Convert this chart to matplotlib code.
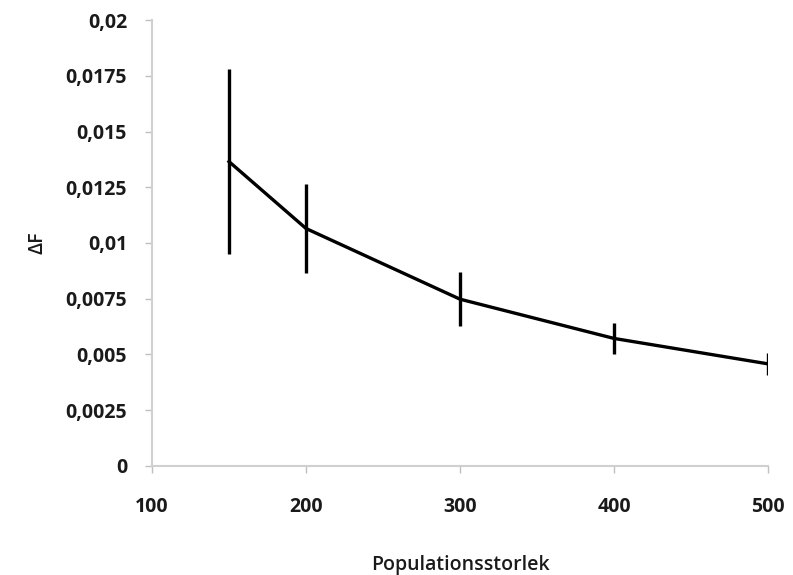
import matplotlib
matplotlib.use("Agg")
import matplotlib.pyplot as plt
from matplotlib.ticker import FuncFormatter, MultipleLocator

# Data
population_size = [150, 200, 300, 400, 500]
delta_f = [0.01365, 0.01065, 0.00748, 0.00572, 0.00458]
delta_f_err = [0.00415, 0.00198, 0.00120, 0.00068, 0.00050]

plt.rcParams['font.family'] = ['Open Sans', 'DejaVu Sans']

fig = plt.figure(figsize=(7.93, 5.75), dpi=100)
ax = fig.add_axes([0.1917, 0.1896, 0.7768, 0.7756])

ax.errorbar(population_size, delta_f, yerr=delta_f_err, color='black',
            linewidth=2.4, elinewidth=2.4, capsize=0)

ax.set_xlim(100, 500)
ax.set_ylim(0, 0.02)
ax.xaxis.set_major_locator(MultipleLocator(100))
ax.yaxis.set_major_locator(MultipleLocator(0.0025))


def comma_fmt(v, pos):
    if abs(v) < 1e-12:
        return '0'
    s = ('%.4f' % v).rstrip('0').rstrip('.')
    return s.replace('.', ',')


ax.yaxis.set_major_formatter(FuncFormatter(comma_fmt))

for side in ['top', 'right']:
    ax.spines[side].set_visible(False)
for side in ['left', 'bottom']:
    ax.spines[side].set_color('#d0d0d0')
    ax.spines[side].set_linewidth(1.5)

ax.tick_params(axis='both', colors='#c0c0c0', length=5, width=1, labelcolor='#1a1a1a',
               labelsize=14)
ax.tick_params(axis='x', pad=17)
ax.tick_params(axis='y', pad=13)
for lbl in ax.get_xticklabels() + ax.get_yticklabels():
    lbl.set_fontweight('bold')

ax.set_xlabel('Populationsstorlek', fontsize=14, fontweight='semibold',
              color='#1a1a1a', labelpad=28)
ax.set_ylabel('ΔF', fontsize=14, fontweight='semibold', color='#1a1a1a',
              labelpad=13)

fig.savefig('out.png', dpi=100)
